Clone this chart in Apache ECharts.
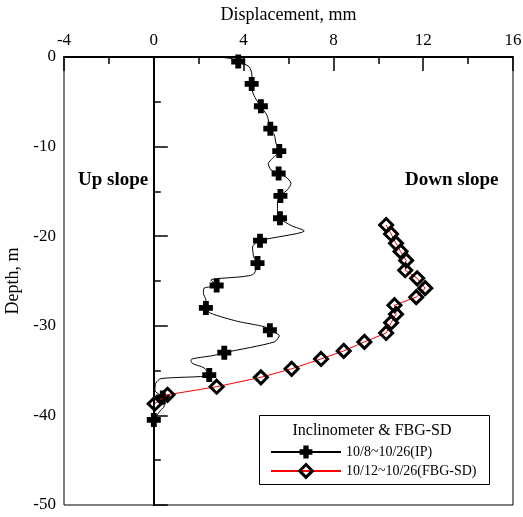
<!DOCTYPE html>
<html>
<head>
<meta charset="utf-8">
<script src="https://cdn.jsdelivr.net/npm/echarts@6/dist/echarts.min.js"></script>
<style>
html,body{margin:0;padding:0;background:#fff;}
#chart{width:523px;height:517px;}
</style>
</head>
<body>
<div id="chart"></div>
<script>
// Inclinometer (IP) curve: displacement (mm) vs depth (m)
const ipDepth = [0, -0.15, -0.5, -1.1, -2.0, -3.0, -3.9, -4.7, -5.5, -6.5, -7.0, -8.0, -8.7, -9.6, -10.5, -11.3, -11.9, -12.6, -13.0, -13.4, -14.1, -14.8, -15.5, -16.2, -17.1, -18.0, -18.8, -19.4, -20.5, -21.2, -22.3, -23.0, -24.3, -24.9, -25.5, -25.8, -26.4, -27.1, -28.0, -28.6, -29.5, -30.1, -30.5, -31.1, -31.8, -33.0, -33.3, -33.8, -34.2, -34.7, -35.5, -35.9, -36.4, -37.2, -38.0, -39.0, -39.4, -40.5];
const ipDisp = [2.7, 3.4, 3.76, 4.25, 4.37, 4.36, 4.4, 4.55, 4.77, 5.04, 5.1, 5.19, 5.37, 5.44, 5.59, 5.29, 5.1, 5.22, 5.56, 5.89, 6.11, 5.96, 5.64, 5.51, 5.51, 5.62, 6.11, 6.7, 4.73, 4.4, 4.45, 4.62, 4.4, 2.54, 2.8, 2.24, 2.21, 2.32, 2.32, 2.54, 3.73, 4.92, 5.17, 5.59, 5.37, 3.14, 2.69, 1.65, 1.72, 2.24, 2.47, 0.31, 0.09, 0.05, 0.4, 0.46, 0.31, 0.0];
// Depths where the inclinometer readings are marked with a cross
const ipMarkerDepth = [-0.5, -3.0, -5.5, -8.0, -10.5, -13.0, -15.5, -18.0, -20.5, -23.0, -25.5, -28.0, -30.5, -33.0, -35.5, -38.0, -40.5];
// FBG-SD readings
const fbgDepth = [-18.75, -19.75, -20.8, -21.7, -22.7, -23.8, -24.7, -25.8, -26.8, -27.7, -28.7, -29.65, -30.8, -31.8, -32.8, -33.7, -34.8, -35.75, -36.8, -37.7, -38.7];
const fbgDisp = [10.35, 10.57, 10.79, 10.99, 11.24, 11.2, 11.73, 12.09, 11.69, 10.72, 10.79, 10.57, 10.35, 9.38, 8.46, 7.45, 6.14, 4.77, 2.8, 0.61, 0.04];
const seriesNames = ['10/8~10/26(IP)', '10/12~10/26(FBG-SD)'];
const xTicks = {min: -4, max: 16, step: 4};
const yTicks = {min: -50, max: 0, step: 10};

const FONT = 'Liberation Serif';
const plusPath = 'path://M3.5,0H8.5V3.5H12V8.5H8.5V12H3.5V8.5H0V3.5H3.5Z';

const ipData = ipDepth.map((d, i) => ({
  value: [ipDisp[i], d],
  symbol: ipMarkerDepth.includes(d) ? plusPath : 'none'
}));
const fbgData = fbgDepth.map((d, i) => [fbgDisp[i], d]);

const chart = echarts.init(document.getElementById('chart'));
chart.setOption({
  animation: false,
  backgroundColor: '#fff',
  grid: {left: 64, top: 57, right: 10, bottom: 12, containLabel: false, outerBoundsMode: 'none',
         show: true, borderColor: '#000', borderWidth: 1, backgroundColor: 'transparent'},
  xAxis: {
    type: 'value', position: 'top',
    min: xTicks.min, max: xTicks.max, interval: xTicks.step,
    name: 'Displacement, mm', nameLocation: 'middle', nameGap: 33,
    nameTextStyle: {fontFamily: FONT, fontSize: 18, color: '#000'},
    axisLine: {show: true, lineStyle: {color: '#000', width: 2}},
    axisTick: {show: true, inside: true, length: 14, lineStyle: {color: '#000', width: 1.5}},
    minorTick: {show: true, splitNumber: 2, length: 7, lineStyle: {color: '#000', width: 1.5}},
    axisLabel: {fontFamily: FONT, fontSize: 17, color: '#000', margin: 8},
    splitLine: {show: false}
  },
  yAxis: {
    type: 'value',
    min: yTicks.min, max: yTicks.max, interval: yTicks.step,
    name: 'Depth, m', nameLocation: 'middle', nameGap: 37,
    nameTextStyle: {fontFamily: FONT, fontSize: 18, color: '#000'},
    axisLine: {show: true, lineStyle: {color: '#000', width: 2}},
    axisTick: {show: true, inside: true, length: 14, lineStyle: {color: '#000', width: 1.5}},
    minorTick: {show: true, splitNumber: 2, length: 7, lineStyle: {color: '#000', width: 1.5}},
    axisLabel: {fontFamily: FONT, fontSize: 17, color: '#000', margin: 8},
    splitLine: {show: false}
  },
  legend: {
    orient: 'vertical', left: 265, top: 440,
    itemWidth: 70, itemHeight: 16, itemGap: 4,
    textStyle: {fontFamily: FONT, fontSize: 14, color: '#000'},
    data: [
      {name: seriesNames[0]},
      {name: seriesNames[1], itemStyle: {borderWidth: 3, borderColor: '#000'}}
    ]
  },
  graphic: [
    {type: 'rect', left: 257, top: 413, shape: {width: 230, height: 69}, style: {fill: 'none', stroke: '#000', lineWidth: 1}, z: 10},
    {type: 'text', x: 372, y: 431, style: {text: 'Inclinometer & FBG-SD', font: '16px "Liberation Serif"', fill: '#000', textAlign: 'center', textVerticalAlign: 'middle'}, z: 10},
    {type: 'text', x: 78, y: 180, style: {text: 'Up slope', font: 'bold 19px "Liberation Serif"', fill: '#000', textAlign: 'left', textVerticalAlign: 'middle'}},
    {type: 'text', x: 405, y: 180, style: {text: 'Down slope', font: 'bold 19px "Liberation Serif"', fill: '#000', textAlign: 'left', textVerticalAlign: 'middle'}}
  ],
  series: [
    {
      name: seriesNames[0], type: 'line', data: ipData,
      smooth: 0.25,
      symbol: plusPath, symbolSize: 14, showAllSymbol: true,
      lineStyle: {color: '#000', width: 1},
      itemStyle: {color: '#000', borderWidth: 0},
      emphasis: {disabled: true},
      markLine: {
        silent: true, symbol: ['none', 'none'], label: {show: false},
        lineStyle: {color: '#000', type: 'solid', width: 1},
        emphasis: {disabled: true},
        data: [{xAxis: 0}]
      },
      z: 3
    },
    {
      name: seriesNames[1], type: 'line', data: fbgData,
      symbol: 'diamond', symbolSize: 13, showAllSymbol: true,
      lineStyle: {color: '#ff0000', width: 1},
      itemStyle: {color: 'rgba(255,255,255,0)', borderColor: '#000', borderWidth: 3},
      emphasis: {disabled: true},
      z: 4
    }
  ]
});
</script>
</body>
</html>
